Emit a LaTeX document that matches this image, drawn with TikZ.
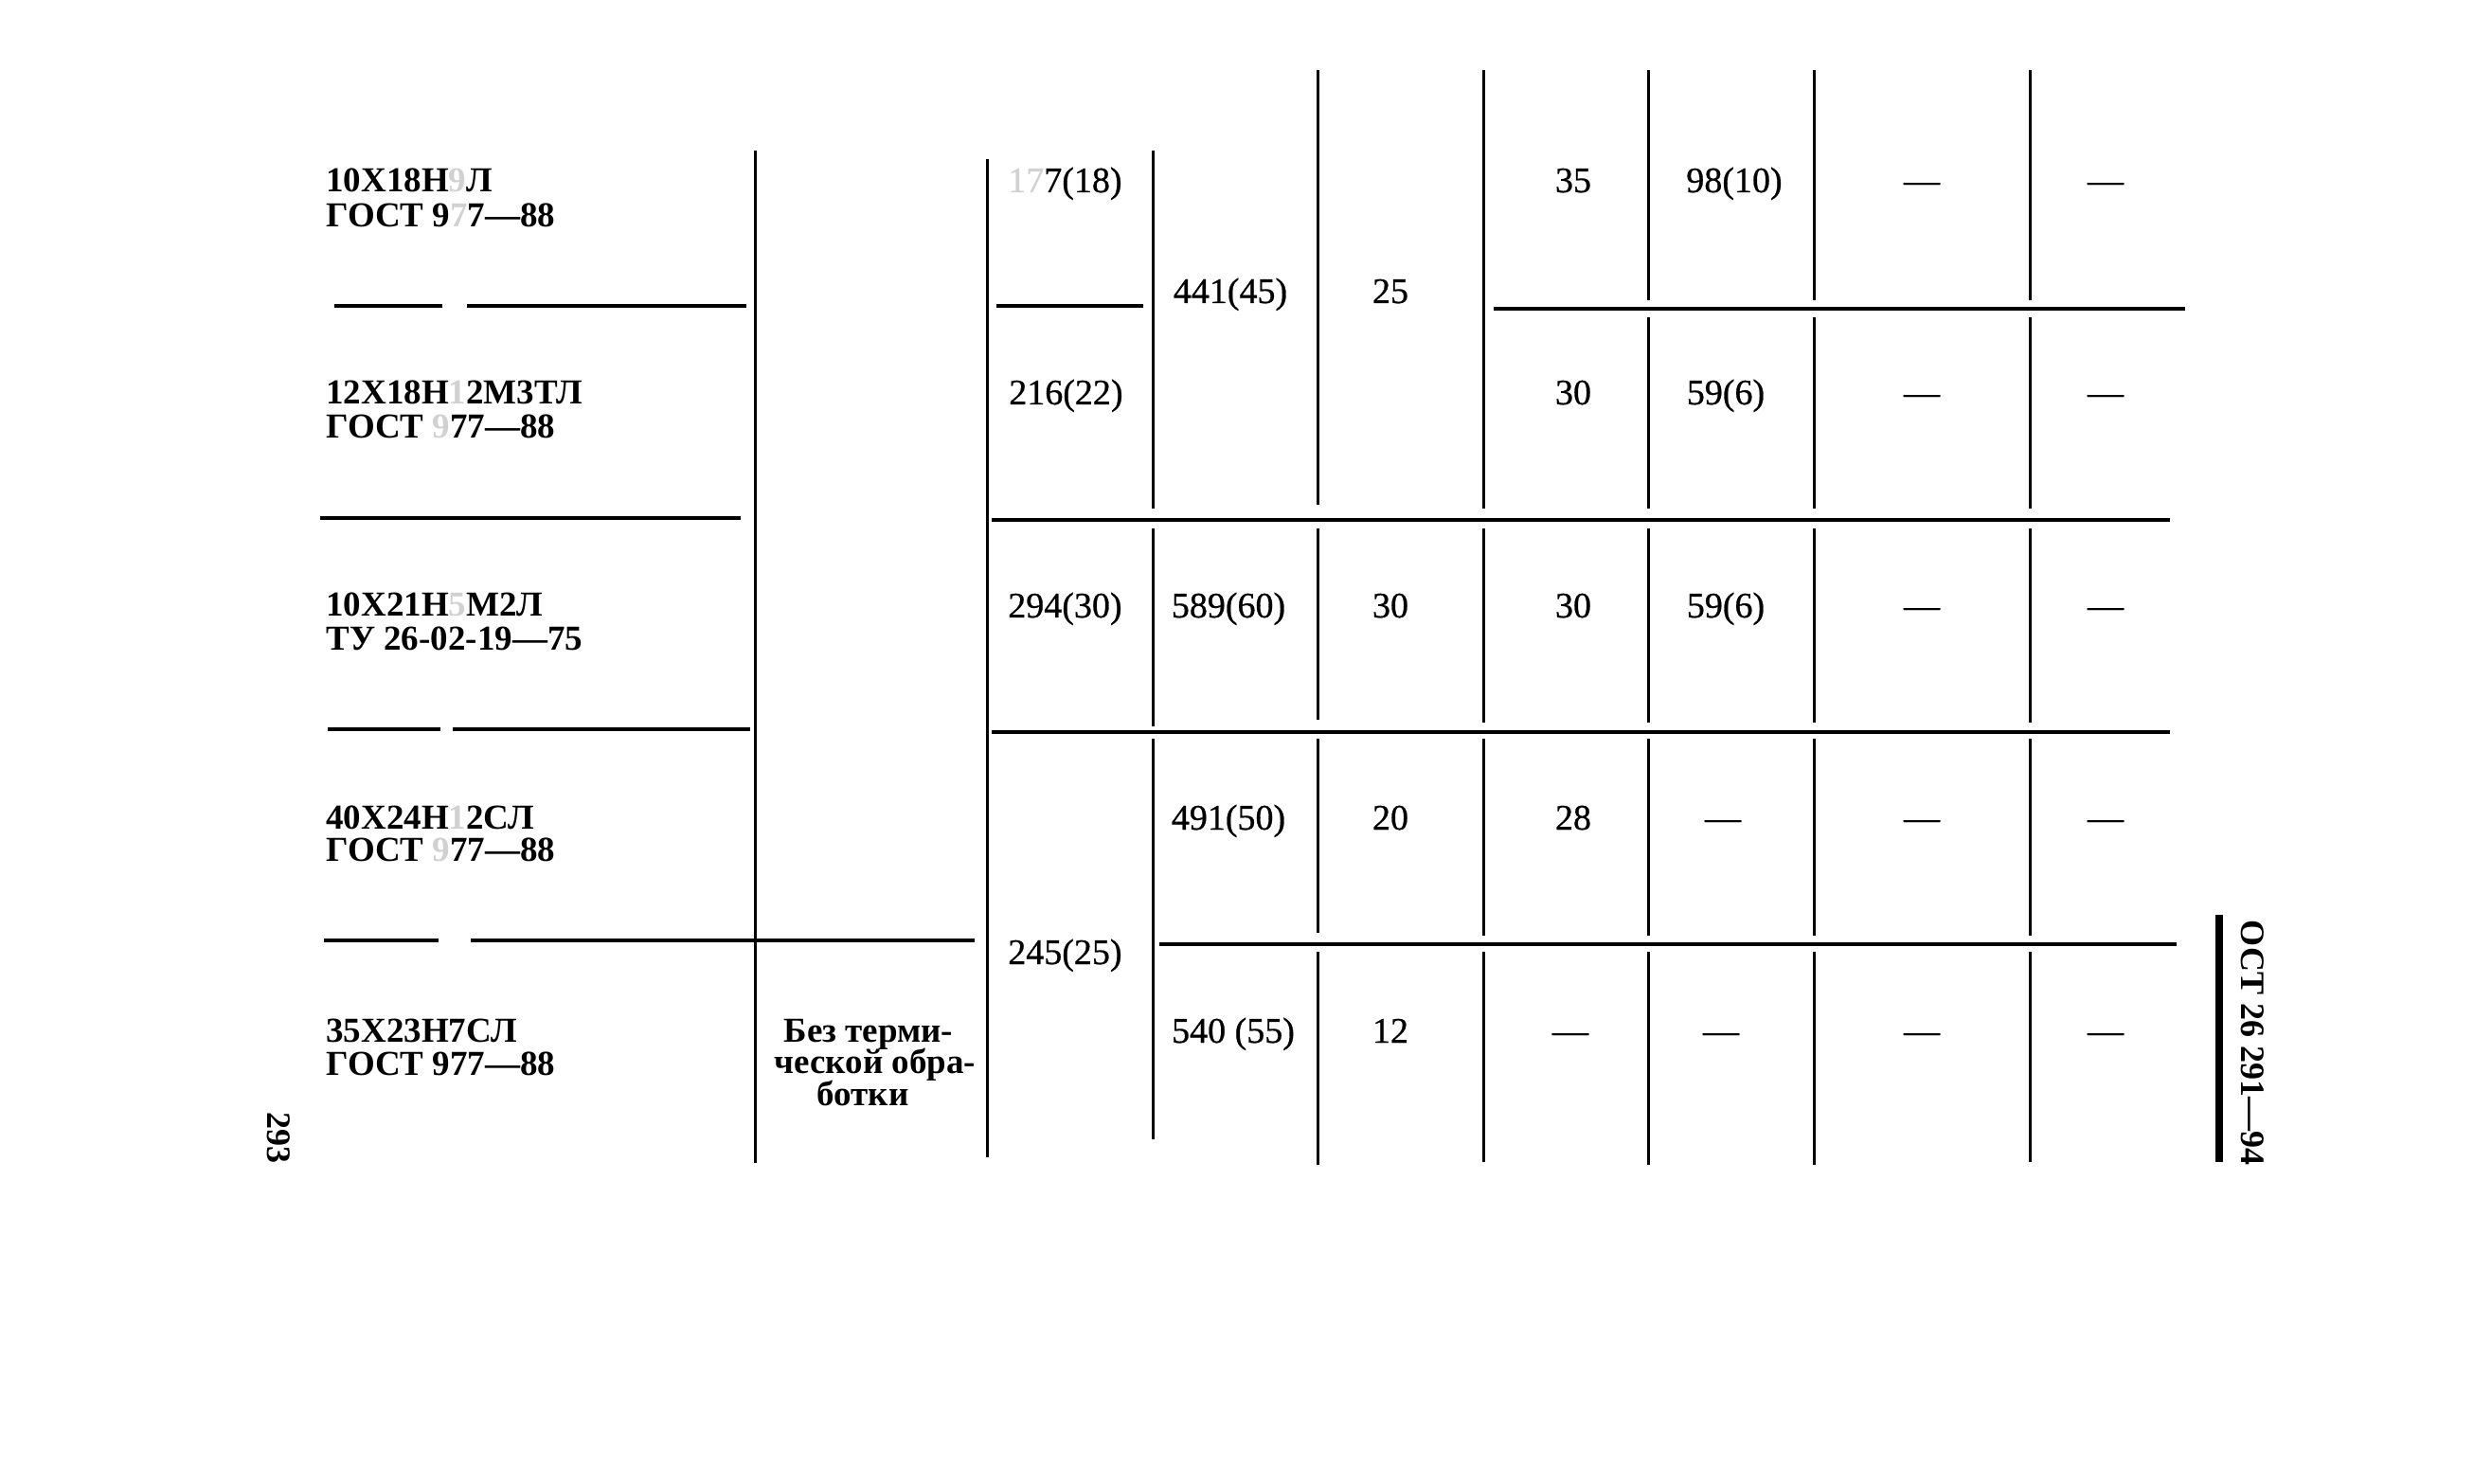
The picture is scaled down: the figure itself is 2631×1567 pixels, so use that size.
\documentclass[tikz,border=0pt]{standalone}
\usepackage{fontspec}
\setmainfont{Liberation Serif}
\newfontfamily\numfont[FakeBold=0.7]{Liberation Serif}
\newcommand\faint[1]{\textcolor{black!18}{#1}}
\begin{document}
\begin{tikzpicture}[x=0.5pt,y=-0.5pt,
  hl/.style={line width=2pt},
  vl/.style={line width=1.5pt},
  bar/.style={line width=4pt},
  num/.style={font=\numfont\fontsize{19}{19}\selectfont, inner sep=0pt, anchor=base},
  numr/.style={num, anchor=base east},
  lab/.style={font=\fontsize{18.5}{18.5}\selectfont\bfseries, inner sep=0pt, anchor=base west},
  cen/.style={font=\fontsize{18.5}{18.5}\selectfont\bfseries, inner sep=0pt, anchor=base},
  side/.style={font=\fontsize{18}{18}\selectfont\bfseries, inner sep=0pt, rotate=-90}]
\useasboundingbox (0,0) rectangle (2631,1567);

% ---------- vertical rules ----------
\draw[vl] (797,159) -- (797,1228);
\draw[vl] (1042,168) -- (1042,1222);
\draw[vl] (1217,159) -- (1217,537) (1217,558) -- (1217,767) (1217,780) -- (1217,1203);
\draw[vl] (1391,74) -- (1391,533) (1391,558) -- (1391,760) (1391,780) -- (1391,985) (1391,1005) -- (1391,1230);
\draw[vl] (1566,74) -- (1566,537) (1566,558) -- (1566,763) (1566,780) -- (1566,988) (1566,1005) -- (1566,1227);
\foreach \x/\b in {1740/1230,1915/1230,2143/1227}
  \draw[vl] (\x,74) -- (\x,317) (\x,335) -- (\x,537) (\x,558) -- (\x,763)
            (\x,780) -- (\x,988) (\x,1005) -- (\x,\b);
\draw[bar] (2343,966) -- (2343,1227);

% ---------- horizontal rules ----------
\draw[hl] (353,323) -- (467,323) (493,323) -- (788,323);
\draw[hl] (1052,323) -- (1207,323);
\draw[hl] (1577,326) -- (2307,326);
\draw[hl] (338,547) -- (782,547);
\draw[hl] (1047,549) -- (2291,549);
\draw[hl] (346,770) -- (465,770) (478,770) -- (792,770);
\draw[hl] (1047,773) -- (2291,773);
\draw[hl] (342,993) -- (463,993) (497,993) -- (1029,993);
\draw[hl] (1224,997) -- (2298,997);

% ---------- material labels ----------
\node[lab] (m1a) at (344,203) {10Х18Н\faint{9}Л};
\node[lab] (m1b) at (344,240) {ГОСТ 9\faint{7}7—88};
\node[lab] (m2a) at (344,427) {12Х18Н\faint{1}2М3ТЛ};
\node[lab] (m2b) at (344,463) {ГОСТ \faint{9}77—88};
\node[lab] (m3a) at (344,651) {10Х21Н\faint{5}М2Л};
\node[lab] (m3b) at (344,686) {ТУ 26-02-19—75};
\node[lab] (m4a) at (344,875) {40Х24Н\faint{1}2СЛ};
\node[lab] (m4b) at (344,909) {ГОСТ \faint{9}77—88};
\node[lab] (m5a) at (344,1100) {35Х23Н7СЛ};
\node[lab] (m5b) at (344,1135) {ГОСТ 977—88};

% ---------- treatment ----------
\node[cen] (t1) at (917,1100) {Без терми-};
\node[cen] (t2) at (924,1133) {ческой обра-};
\node[cen] (t3) at (911,1167) {ботки};

% ---------- column 3 ----------
\node[numr] (c3r1) at (1185,203) {\faint{17}7(18)};
\node[numr] (c3r2) at (1186,427) {216(22)};
\node[numr] (c3r3) at (1185,652) {294(30)};
\node[numr] (c3r4) at (1185,1018) {245(25)};

% ---------- column 4 ----------
\node[num] (c4r1) at (1299,320) {441(45)};
\node[num] (c4r3) at (1297,652) {589(60)};
\node[num] (c4r4) at (1297,876) {491(50)};
\node[num] (c4r5) at (1302,1101) {540 (55)};

% ---------- column 5 ----------
\node[num] (c5r1) at (1468,320) {25};
\node[num] (c5r3) at (1468,652) {30};
\node[num] (c5r4) at (1468,876) {20};
\node[num] (c5r5) at (1468,1101) {12};

% ---------- column 6 ----------
\node[num] (c6r1) at (1661,203) {35};
\node[num] (c6r2) at (1661,427) {30};
\node[num] (c6r3) at (1661,652) {30};
\node[num] (c6r4) at (1661,876) {28};
\node[num] (c6r5) at (1658,1101) {—};

% ---------- column 7 ----------
\node[num] (c7r1) at (1831,203) {98(10)};
\node[num] (c7r2) at (1822,427) {59(6)};
\node[num] (c7r3) at (1822,652) {59(6)};
\node[num] (c7r4) at (1819,876) {—};
\node[num] (c7r5) at (1817,1101) {—};

% ---------- columns 8, 9 ----------
\foreach \y/\r in {203/1,427/2,652/3,876/4,1101/5}{
  \node[num] (c8r\r) at (2029,\y) {—};
  \node[num] (c9r\r) at (2223,\y) {—};
}

% ---------- page marks ----------
\node[side] (hdr) at (2378,1101) {ОСТ 26 291—94};
\node[side] (pg) at (294,1201) {293};
\end{tikzpicture}
\end{document}
